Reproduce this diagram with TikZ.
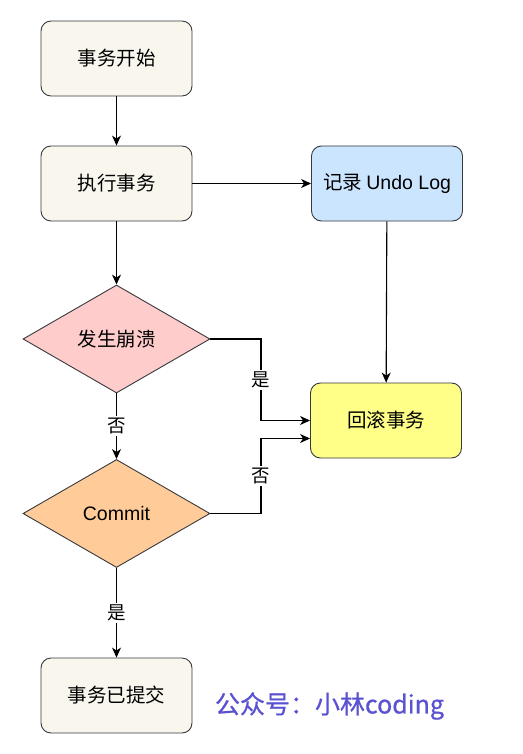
\documentclass[tikz,border=0pt]{standalone}
\usepackage{fontspec}
\setmainfont{Noto Sans CJK SC}
\newfontfamily\latin{Liberation Sans}
\newfontfamily\wmfont[FakeBold=0.7]{Noto Sans CJK SC}
\usepackage{tikz}
\usetikzlibrary{arrows.meta,shapes.geometric}
\definecolor{beige}{HTML}{F9F7ED}
\definecolor{blu}{HTML}{CCE5FF}
\definecolor{pnk}{HTML}{FFCCCC}
\definecolor{org}{HTML}{FFCC99}
\definecolor{ylw}{HTML}{FFFF88}
\definecolor{edge}{HTML}{36393D}
\definecolor{mark}{HTML}{5A52D0}
\tikzset{bx/.append style={draw=edge,line width=0.9pt,rounded corners=10pt,minimum width=151pt,minimum height=75pt,inner sep=0pt,font=\fontsize{19.5}{23}\selectfont}}
\tikzset{dm/.append style={draw=edge,line width=0.9pt,diamond,aspect=1.73,minimum width=187pt,minimum height=108pt,inner sep=0pt,font=\fontsize{19.5}{23}\selectfont}}
\tikzset{lb/.append style={fill=white,inner sep=2pt,font=\fontsize{18.5}{22}\selectfont}}
\tikzset{ar/.append style={-{Stealth[length=10pt,width=9pt,inset=3pt]},line width=1.1pt}}

\begin{document}
\begin{tikzpicture}[x=1pt,y=-1pt]
                % \SetUpFlow
                \useasboundingbox (0,0) rectangle (522,754);
                \node[bx,fill=beige] (start) at (116.5,58.5) {事务开始};
                \node[bx,fill=beige] (exec) at (116.5,183.5) {执行事务};
                \node[bx,fill=blu] (undo) at (387,183.5) {记录 {\latin Undo Log}};
                \node[dm,fill=pnk] (crash) at (116.5,339) {发生崩溃};
                \node[dm,fill=org] (commit) at (116.5,513.5) {\latin Commit};
                \node[bx,fill=ylw] (rollback) at (386,420.5) {回滚事务};
                \node[bx,fill=beige] (done) at (116.5,695.5) {事务已提交};
                \node[text=mark,font=\wmfont\fontsize{25}{29}\selectfont] (wm) at (329.5,706) {公众号：小林coding};
                \coordinate (ja) at (261,0);
                \path[ar] (start) edge (exec) (exec) edge (undo) (exec) edge (crash) (undo) edge (rollback);
                \path[ar] (crash) edge node[lb]{否} (commit) (commit) edge node[lb]{是} (done);
                \draw[ar] (crash.east) -| (ja |- rollback.west) node[lb,pos=0.75]{是} -- (rollback.west);
                \draw[ar] (commit.east) -| ([yshift=-18pt]ja |- rollback.west) node[lb,pos=0.75]{否} -- ([yshift=-18pt]rollback.west);
            \end{tikzpicture}
\end{document}
